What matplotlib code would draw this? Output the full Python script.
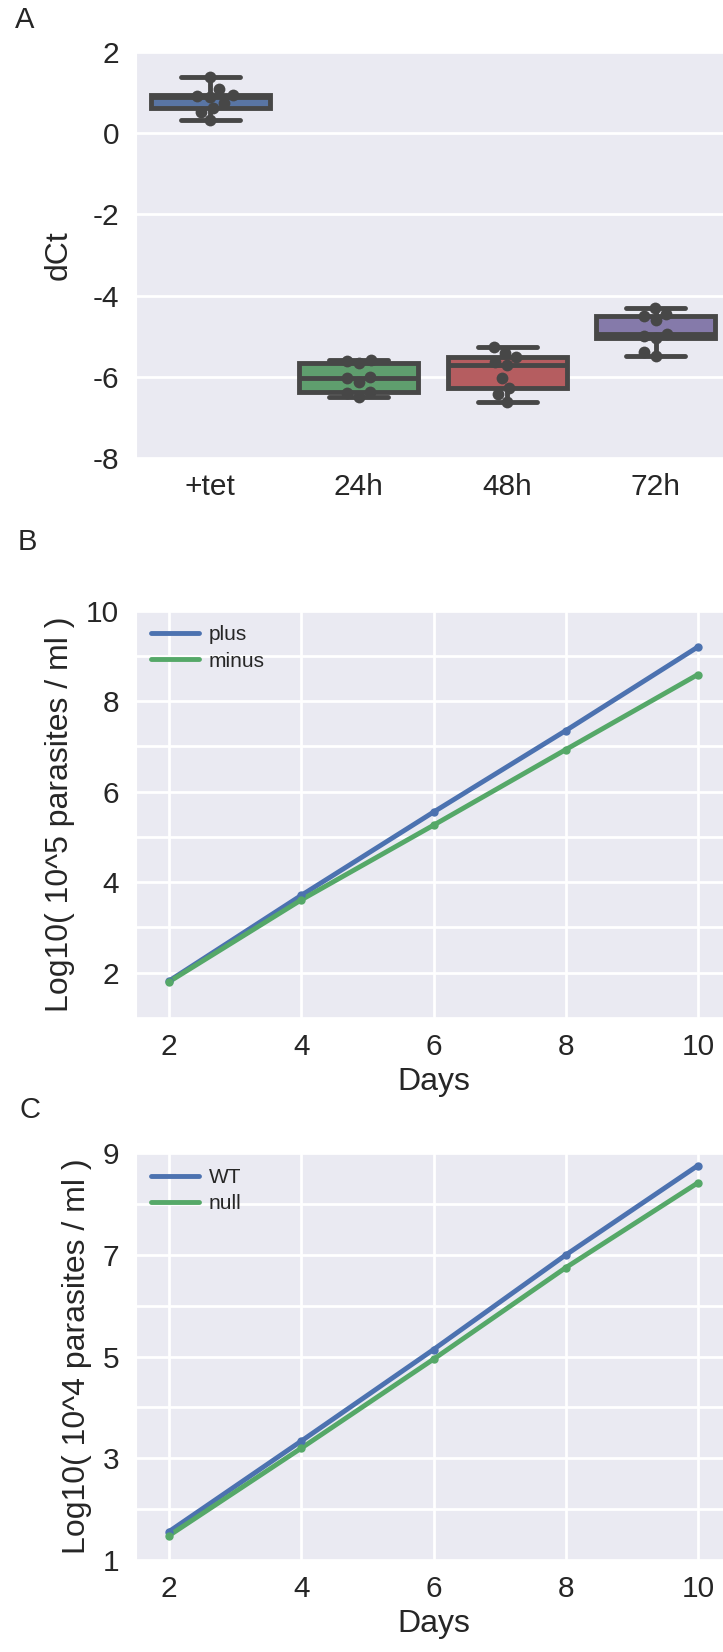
import matplotlib
matplotlib.use("Agg")
import matplotlib.pyplot as plt
import seaborn as sns
import numpy as np
import pandas as pd

sns.set_style("darkgrid")
plt.rcParams['font.family'] = ['Liberation Sans', 'DejaVu Sans']
plt.rcParams['axes.unicode_minus'] = False
plt.rcParams['grid.linewidth'] = 2

# panel A: dCt per condition (9 replicates each)
conditions = ["+tet", "24h", "48h", "72h"]
dct_tet = [1.39, 1.08, 0.95, 0.92, 0.90, 0.74, 0.62, 0.53, 0.33]
dct_24h = [-5.58, -5.60, -5.67, -6.00, -6.04, -6.12, -6.37, -6.41, -6.49]
dct_48h = [-5.27, -5.42, -5.52, -5.64, -5.72, -6.04, -6.28, -6.42, -6.62]
dct_72h = [-4.31, -4.45, -4.50, -4.60, -4.95, -5.00, -5.05, -5.40, -5.48]
box_colors = ["#4C72B0", "#55A868", "#C44E52", "#8172B2"]

# panel B / C: growth curves
days = [2, 4, 6, 8, 10]
plus = [1.82, 3.71, 5.55, 7.35, 9.20]
minus = [1.80, 3.61, 5.26, 6.93, 8.59]
wt = [1.56, 3.34, 5.14, 7.00, 8.76]
null = [1.48, 3.20, 4.95, 6.75, 8.42]

BLUE = "#4C72B0"
GREEN = "#55A868"
W, H = 723, 1652
TICK_FS = 21.5
LABEL_FS = 23

fig = plt.figure(figsize=(W / 100, H / 100), dpi=100)


def px_axes(left, top, right, bottom):
    return fig.add_axes([left / W, 1 - bottom / H, (right - left) / W, (bottom - top) / H])


def style_ticks(ax):
    ax.tick_params(which='both', length=0, labelsize=TICK_FS)
    ax.tick_params(axis='y', pad=12)
    ax.tick_params(axis='x', pad=11)


# ---- A
axA = px_axes(136, 52, 730, 458)
df = pd.DataFrame({
    "cond": np.repeat(conditions, 9),
    "dct": np.concatenate([dct_tet, dct_24h, dct_48h, dct_72h]),
})
sns.boxplot(data=df, x="cond", y="dct", hue="cond", order=conditions, palette=box_colors,
            saturation=0.75, linewidth=3.5, linecolor="#474747", width=0.8, fliersize=0,
            legend=False, ax=axA)
sns.swarmplot(data=df, x="cond", y="dct", order=conditions, color="#474747", size=8.5, ax=axA)
axA.set_ylim(-8, 2)
axA.set_xlim(-0.5, 3.5)
axA.set_yticks([-8, -6, -4, -2, 0, 2])
axA.set_xlabel("")
axA.set_ylabel("dCt", fontsize=LABEL_FS, labelpad=14)
axA.xaxis.grid(False)
style_ticks(axA)

# ---- B
axB = px_axes(136, 610.7, 731, 1018)
axB.plot(days, plus, color=BLUE, lw=3.5, label="plus")
axB.plot(days, minus, color=GREEN, lw=3.5, label="minus")
axB.plot(days, plus, 'o', color=BLUE, ms=5)
axB.plot(days, minus, 'o', color=GREEN, ms=5)
axB.set_xlim(1.5, 10.5)
axB.set_ylim(1, 10)
axB.set_xticks(days)
axB.set_yticks([2, 4, 6, 8, 10])
axB.set_yticks([1, 3, 5, 7, 9], minor=True)
axB.grid(True, which='minor', axis='y', color='white', linewidth=2)
axB.set_xlabel("Days", fontsize=LABEL_FS, labelpad=4)
axB.set_ylabel("Log10( 10^5 parasites / ml )", fontsize=LABEL_FS, labelpad=8)
axB.legend(loc='upper left', fontsize=15, frameon=False, handlelength=2.3,
           handletextpad=0.5, labelspacing=0.35, borderaxespad=0.3)
style_ticks(axB)

# ---- C
axC = px_axes(136, 1153.3, 731, 1560)
axC.plot(days, wt, color=BLUE, lw=3.5, label="WT")
axC.plot(days, null, color=GREEN, lw=3.5, label="null")
axC.plot(days, wt, 'o', color=BLUE, ms=5)
axC.plot(days, null, 'o', color=GREEN, ms=5)
axC.set_xlim(1.5, 10.5)
axC.set_ylim(1, 9)
axC.set_xticks(days)
axC.set_yticks([1, 3, 5, 7, 9])
axC.set_yticks([2, 4, 6, 8], minor=True)
axC.grid(True, which='minor', axis='y', color='white', linewidth=2)
axC.set_xlabel("Days", fontsize=LABEL_FS, labelpad=4)
axC.set_ylabel("Log10( 10^4 parasites / ml )", fontsize=LABEL_FS, labelpad=8)
axC.legend(loc='upper left', fontsize=15, frameon=False, handlelength=2.3,
           handletextpad=0.5, labelspacing=0.35, borderaxespad=0.3)
style_ticks(axC)

for letter, (x, y) in zip("ABC", [(25, 20), (27, 542), (30, 1110)]):
    fig.text(x / W, 1 - y / H, letter, fontsize=21, ha='center', va='center', color='.15')

fig.savefig("out.png", dpi=100)
